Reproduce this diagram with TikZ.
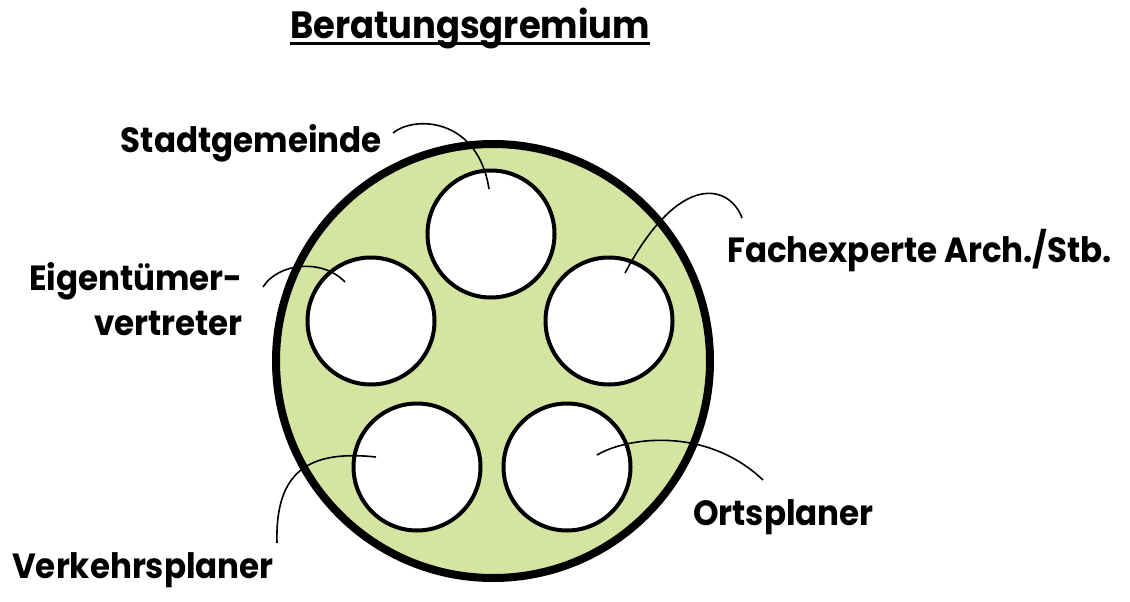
\documentclass[tikz,border=0pt]{standalone}
\usepackage{fontspec}
\setmainfont{Poppins}[FakeStretch=0.93]
\usetikzlibrary{positioning}

\begin{document}
\begin{tikzpicture}[x=1pt,y=-1pt]

\def\boardsize{434pt}
\def\seatsize{127pt}

\definecolor{boardGreen}{HTML}{D6E4A1}

\tikzstyle{boardCircle}=[circle,draw=black,line width=8pt,fill=boardGreen,minimum size=\boardsize,inner sep=0pt]
\tikzstyle{seatCircle}=[circle,draw=black,line width=4pt,fill=white,minimum size=\seatsize,inner sep=0pt]
\tikzstyle{memberLabel}=[inner sep=0pt,font=\fontsize{35}{45}\selectfont\bfseries]
\tikzstyle{titleLabel}=[memberLabel,font=\fontsize{38}{46}\selectfont\bfseries]
\tikzstyle{leadLine}=[draw=black,line width=1.6pt]

\useasboundingbox (0,0) rectangle (1130,602);

%Title
\node[titleLabel,anchor=base] (title) at (470,39) {Beratungsgremium};
\draw[line width=3pt] ([yshift=-5pt]title.base west) -- ([yshift=-5pt]title.base east);

%board and seats
\node[boardCircle] (board) at (493,361) {};
\node[seatCircle] (stadtSeat) at (491,234) {};
\node[seatCircle] (eigenSeat) at (371,321) {};
\node[seatCircle] (fachSeat)  at (609,321) {};
\node[seatCircle] (verkSeat)  at (417,467) {};
\node[seatCircle] (ortsSeat)  at (567,467) {};

%member labels
\node[memberLabel,anchor=base east] (stadtLabel) at (382,152) {Stadtgemeinde};
\node[memberLabel,anchor=north east,align=right] (eigenLabel) at (243,262) {Eigentümer-\\vertreter};
\node[memberLabel,anchor=base west] (fachLabel) at (727,262) {Fachexperte Arch./Stb.};
\node[memberLabel,anchor=base west] (ortsLabel) at (693,525) {Ortsplaner};
\node[memberLabel,anchor=base west] (verkLabel) at (12,578) {Verkehrsplaner};

% lead ends
\coordinate (stadtFrom) at (393,133);
\coordinate (stadtTo)   at (489,189);
\coordinate (fachFrom)  at (742,218);
\coordinate (fachTo)    at (625,273);
\coordinate (eigenFrom) at (263,287);
\coordinate (eigenTo)   at (345,282);
\coordinate (verkFrom)  at (277,543);
\coordinate (verkTo)    at (376,457);
\coordinate (ortsFrom)  at (763,480);
\coordinate (ortsTo)    at (597,455);

% connections
\draw[leadLine] (stadtFrom) .. controls (415,115) and (478,118) .. (stadtTo);
\draw[leadLine] (fachFrom) .. controls (730,185) and (680,170) .. (fachTo);
\draw[leadLine] (eigenFrom) .. controls (278,263) and (322,258) .. (eigenTo);
\draw[leadLine] (verkFrom) .. controls (275,470) and (310,450) .. (verkTo);
\draw[leadLine] (ortsFrom) .. controls (705,425) and (625,438) .. (ortsTo);

\end{tikzpicture}
\end{document}
